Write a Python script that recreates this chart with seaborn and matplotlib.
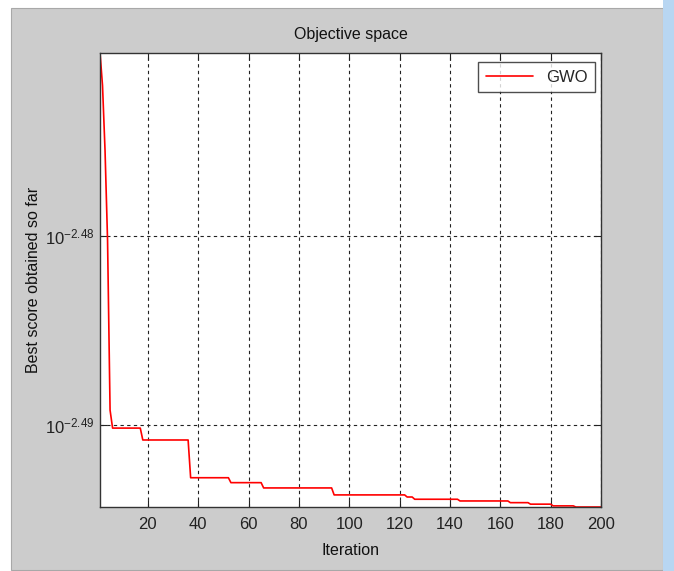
import numpy as np
import pandas as pd
import matplotlib
matplotlib.use("Agg")
import matplotlib.pyplot as plt
from matplotlib.patches import Rectangle
from matplotlib.ticker import FixedLocator, NullLocator
import seaborn as sns

# best score levels and how many iterations each lasts
levels = [0.00338642, 0.00337280, 0.00334619, 0.00330971, 0.00324183,
          0.00323475, 0.00323006, 0.00321522, 0.00321329, 0.00321122,
          0.00320849, 0.00320767, 0.00320679, 0.00320612, 0.00320546,
          0.00320487, 0.00320420, 0.00320376]
run_lengths = [1, 1, 1, 1, 1, 12, 19, 16, 13, 28, 29, 3, 18, 20, 8, 9, 9, 11]
x_ticks = [20, 40, 60, 80, 100, 120, 140, 160, 180, 200]
y_tick_exps = [-2.49, -2.48]

scores = np.repeat(levels, run_lengths)
iters = np.arange(1, len(scores) + 1)
df = pd.DataFrame({"Iteration": iters, "Best score": scores})

sns.set_style("ticks")
plt.rcParams["font.family"] = ["Liberation Sans", "DejaVu Sans"]
plt.rcParams["mathtext.fontset"] = "custom"
plt.rcParams["mathtext.rm"] = "Liberation Sans"
plt.rcParams["mathtext.it"] = "Liberation Sans"

fig = plt.figure(figsize=(6.74, 5.71), dpi=100, facecolor="white")
W, H = 674, 571
# gray matlab figure window
fig.patches.append(Rectangle((11 / W, 1 - 570 / H), (663 - 11) / W, (570 - 8) / H,
                             transform=fig.transFigure, facecolor="#cccccc",
                             edgecolor="#a8a8a8", lw=0.8, zorder=-10))
fig.patches.append(Rectangle((663 / W, 0), 11 / W, 1, transform=fig.transFigure,
                             facecolor="#b8d6f2", edgecolor="none", zorder=-10))

ax = fig.add_axes([100 / W, 1 - 507 / H, 501 / W, (507 - 52.5) / H])
ax.set_facecolor("white")

sns.lineplot(data=df, x="Iteration", y="Best score", color="red", lw=1.2,
             label="GWO", ax=ax)
ax.set_yscale("log")
ax.set_xlim(1, 200)
ax.set_ylim(scores.min(), scores.max())

ax.xaxis.set_major_locator(FixedLocator(x_ticks))
ax.set_xticklabels([str(t) for t in x_ticks])
ax.yaxis.set_major_locator(FixedLocator([10 ** e for e in y_tick_exps]))
ax.yaxis.set_minor_locator(NullLocator())
ax.set_yticklabels([r"$10^{%.2f}$" % e for e in y_tick_exps])

ax.tick_params(direction="in", top=True, right=True, length=5, width=0.8,
               labelsize=12, colors="#222222", pad=7)
ax.tick_params(axis="y", labelsize=12, pad=4)
for s in ax.spines.values():
    s.set_color("#333333")
    s.set_linewidth(1.0)

ax.grid(True, color="#222222", linestyle=(0, (3, 3)), linewidth=0.8)

ax.set_title("Objective space", fontsize=11.5, color="#111111", pad=10)
ax.set_xlabel("Iteration", fontsize=11.5, color="#111111", labelpad=8)
ax.set_ylabel("Best score obtained so far", fontsize=11.5, color="#111111")
ax.yaxis.set_label_coords(-0.118, 0.5)

leg = ax.legend(loc="upper right", fontsize=12, frameon=True, fancybox=False,
                handlelength=2.8, borderpad=0.45, borderaxespad=0,
                bbox_to_anchor=(595 / W, 1 - 62 / H),
                bbox_transform=fig.transFigure)
leg.get_frame().set_edgecolor("#222222")
leg.get_frame().set_linewidth(1.0)

fig.savefig("out.png", dpi=100, facecolor=fig.get_facecolor())
